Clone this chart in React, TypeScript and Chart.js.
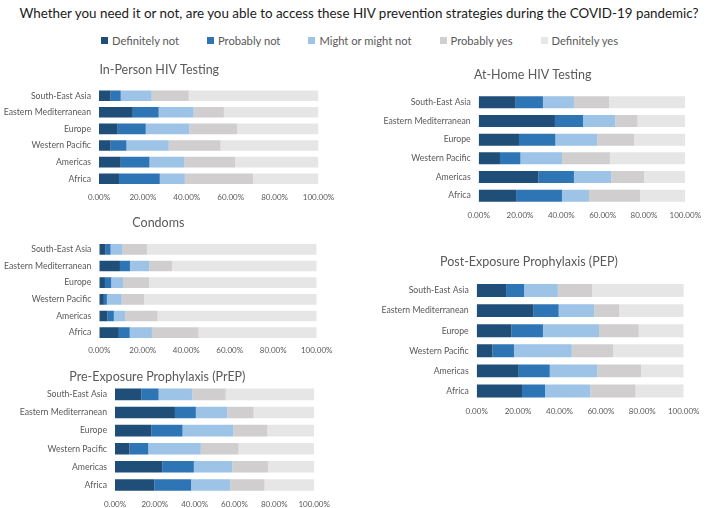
import React, { useEffect, useRef } from "react";
import { Chart, registerables } from "chart.js";

Chart.register(...registerables);

// ---------- data ----------
const regions = [
  "South-East Asia",
  "Eastern Mediterranean",
  "Europe",
  "Western Pacific",
  "Americas",
  "Africa",
];
const responseLabels = [
  "Definitely not",
  "Probably not",
  "Might or might not",
  "Probably yes",
  "Definitely yes",
];
const responseColors = ["#1F4E79", "#2E75B6", "#9DC3E6", "#D0CECE", "#E7E6E6"];
const xTickValues = [0, 20, 40, 60, 80, 100];

const mainTitle =
  "Whether you need it or not, are you able to access these HIV prevention strategies during the COVID-19 pandemic?";

// In-Person HIV Testing
const inPersonDefNot = [5.3, 15.4, 8.5, 5.3, 9.9, 9.1];
const inPersonProbNot = [4.6, 11.8, 12.8, 7.2, 13.1, 18.6];
const inPersonMight = [14.1, 15.9, 19.9, 19.3, 15.8, 11.4];
const inPersonProbYes = [16.9, 13.8, 21.7, 23.6, 23.2, 31.1];
const inPersonDefYes = [59.1, 43.1, 37.1, 44.6, 38.0, 29.8];

// Condoms
const condomsDefNot = [2.9, 9.5, 2.6, 2.1, 3.8, 9.0];
const condomsProbNot = [2.3, 4.6, 2.9, 1.4, 2.9, 5.0];
const condomsMight = [5.5, 8.8, 5.4, 6.8, 5.1, 10.2];
const condomsProbYes = [11.2, 10.5, 12.0, 10.3, 15.0, 21.5];
const condomsDefYes = [78.1, 66.6, 77.1, 79.4, 73.2, 54.3];

// Pre-Exposure Prophylaxis (PrEP)
const prepDefNot = [13.2, 30.1, 18.2, 7.2, 23.7, 19.7];
const prepProbNot = [8.7, 10.5, 15.7, 9.5, 15.9, 18.5];
const prepMight = [17.0, 15.8, 25.5, 26.4, 19.3, 19.7];
const prepProbYes = [16.7, 13.2, 17.1, 19.0, 17.9, 17.2];
const prepDefYes = [44.4, 30.4, 23.5, 37.9, 23.2, 24.9];

// At-Home HIV Testing
const atHomeDefNot = [17.9, 36.9, 19.5, 10.3, 28.9, 18.1];
const atHomeProbNot = [13.2, 13.6, 17.6, 9.9, 17.2, 22.2];
const atHomeMight = [15.0, 15.6, 20.2, 20.1, 18.1, 13.1];
const atHomeProbYes = [17.0, 10.8, 17.9, 23.2, 15.8, 24.7];
const atHomeDefYes = [36.9, 23.1, 24.8, 36.5, 20.0, 21.9];

// Post-Exposure Prophylaxis (PEP)
const pepDefNot = [14.2, 27.5, 16.7, 7.6, 20.3, 21.9];
const pepProbNot = [8.7, 12.1, 15.3, 10.4, 15.0, 11.1];
const pepMight = [16.3, 17.2, 27.1, 27.9, 23.0, 21.9];
const pepProbYes = [16.6, 12.0, 19.2, 20.0, 21.1, 21.8];
const pepDefYes = [44.3, 31.2, 21.7, 34.1, 20.6, 23.3];

// ---------- layout helpers ----------
const FONT = "Lato, 'Open Sans', sans-serif";
const GREY = "#595959";
const TITLE_SIZE = 12.5;
const TICK_SIZE = 8;
const X_AXIS_H = 20;

type Box = {
  canvasLeft: number;
  canvasWidth: number;
  areaLeft: number;
  areaRight: number;
  areaTop: number;
  areaBottom: number;
  titleY: number;
  tickY: number;
};

function Panel({ title, series, box }: { title: string; series: number[][]; box: Box }) {
  const ref = useRef<HTMLCanvasElement | null>(null);
  const titleLine = TITLE_SIZE * 1.2;
  const padTop = 4.5;
  const top = box.titleY - padTop - titleLine / 2;
  const padBottom = box.areaTop - top - padTop - titleLine;
  const tickPad = box.tickY - box.areaBottom - (TICK_SIZE * 1.2) / 2;
  const height = Math.round(box.areaBottom + X_AXIS_H - top);
  const yAxisWidth = box.areaLeft - box.canvasLeft;
  const padRight = box.canvasLeft + box.canvasWidth - box.areaRight;

  useEffect(() => {
    if (!ref.current) return;
    const chart = new Chart(ref.current, {
      type: "bar",
      data: {
        labels: regions,
        datasets: series.map((d, i) => ({
          label: responseLabels[i],
          data: d,
          backgroundColor: responseColors[i],
          borderWidth: 0,
          barPercentage: 0.64,
          categoryPercentage: 1,
        })),
      },
      options: {
        indexAxis: "y",
        responsive: false,
        maintainAspectRatio: false,
        animation: false,
        devicePixelRatio: 1,
        layout: { padding: { left: 0, top: 0, bottom: 0, right: padRight } },
        plugins: {
          legend: { display: false },
          tooltip: { enabled: false },
          title: {
            display: true,
            text: title,
            color: GREY,
            font: { family: FONT, size: TITLE_SIZE, weight: "normal" },
            padding: { top: padTop, bottom: padBottom },
          },
        },
        scales: {
          x: {
            stacked: true,
            min: 0,
            max: 100,
            grid: { display: false, drawTicks: false },
            border: { display: false },
            afterBuildTicks: (s: any) => {
              s.ticks = xTickValues.map((v) => ({ value: v }));
            },
            afterFit: (s: any) => {
              s.height = X_AXIS_H;
            },
            ticks: {
              padding: tickPad,
              color: GREY,
              maxRotation: 0,
              font: { family: FONT, size: TICK_SIZE },
              callback: (v: any) => Number(v).toFixed(2) + "%",
            },
          },
          y: {
            stacked: true,
            grid: { display: false, drawTicks: false },
            border: { display: false },
            afterFit: (s: any) => {
              s.width = yAxisWidth;
            },
            ticks: {
              padding: 8,
              autoSkip: false,
              color: GREY,
              font: { family: FONT, size: 8.7 },
            },
          },
        },
      },
    } as any);
    return () => chart.destroy();
  }, []);

  return (
    <canvas
      ref={ref}
      width={box.canvasWidth}
      height={height}
      style={{
        position: "absolute",
        left: box.canvasLeft,
        top: top,
        width: box.canvasWidth,
        height: height,
      }}
    />
  );
}

function Legend() {
  return (
    <div
      style={{
        position: "absolute",
        left: 101,
        top: 31,
        height: 18,
        display: "flex",
        alignItems: "center",
        fontFamily: FONT,
        fontSize: 11.2,
        color: GREY,
        whiteSpace: "nowrap",
      }}
    >
      {responseLabels.map((l, i) => (
        <div key={l} style={{ display: "flex", alignItems: "center", marginRight: 28 }}>
          <span
            style={{
              display: "inline-block",
              width: 7,
              height: 7,
              background: responseColors[i],
              marginRight: 4,
            }}
          />
          <span>{l}</span>
        </div>
      ))}
    </div>
  );
}

export default function App() {
  return (
    <div
      style={{
        position: "absolute",
        left: 0,
        top: 0,
        width: 711,
        height: 508,
        overflow: "hidden",
        background: "#ffffff",
      }}
    >
      <div
        style={{
          position: "absolute",
          left: 0,
          top: 4,
          width: 718,
          textAlign: "center",
          fontFamily: FONT,
          fontSize: 13.4,
          lineHeight: "18px",
          color: "#1a1a1a",
          whiteSpace: "nowrap",
        }}
      >
        {mainTitle}
      </div>
      <Legend />
      <Panel
        title="In-Person HIV Testing"
        series={[inPersonDefNot, inPersonProbNot, inPersonMight, inPersonProbYes, inPersonDefYes]}
        box={{ canvasLeft: 0, canvasWidth: 344, areaLeft: 99, areaRight: 318.5, areaTop: 87.4, areaBottom: 186.6, titleY: 70, tickY: 196.7 }}
      />
      <Panel
        title="Condoms"
        series={[condomsDefNot, condomsProbNot, condomsMight, condomsProbYes, condomsDefYes]}
        box={{ canvasLeft: 0, canvasWidth: 340, areaLeft: 99.3, areaRight: 316.7, areaTop: 240.7, areaBottom: 340.7, titleY: 222.7, tickY: 350 }}
      />
      <Panel
        title="Pre-Exposure Prophylaxis (PrEP)"
        series={[prepDefNot, prepProbNot, prepMight, prepProbYes, prepDefYes]}
        box={{ canvasLeft: 0, canvasWidth: 336, areaLeft: 115, areaRight: 314.7, areaTop: 385.6, areaBottom: 494.8, titleY: 377.3, tickY: 505.7 }}
      />
      <Panel
        title="At-Home HIV Testing"
        series={[atHomeDefNot, atHomeProbNot, atHomeMight, atHomeProbYes, atHomeDefYes]}
        box={{ canvasLeft: 380, canvasWidth: 330, areaLeft: 478.7, areaRight: 685.3, areaTop: 93, areaBottom: 205, titleY: 75, tickY: 215.7 }}
      />
      <Panel
        title="Post-Exposure Prophylaxis (PEP)"
        series={[pepDefNot, pepProbNot, pepMight, pepProbYes, pepDefYes]}
        box={{ canvasLeft: 374, canvasWidth: 336, areaLeft: 476.7, areaRight: 683.7, areaTop: 280, areaBottom: 400, titleY: 261.5, tickY: 410.7 }}
      />
    </div>
  );
}
